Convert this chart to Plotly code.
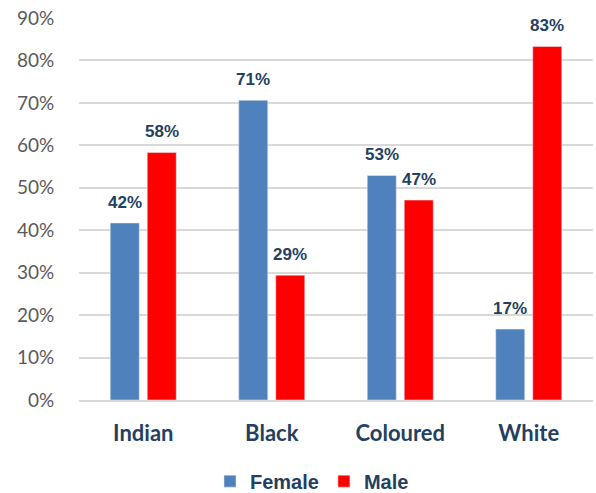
import plotly.graph_objects as go

# Share of each population group by sex
groups = ["Indian", "Black", "Coloured", "White"]
female = [0.417, 0.706, 0.529, 0.167]
male = [0.583, 0.294, 0.471, 0.833]
y_ticks = [0, 0.1, 0.2, 0.3, 0.4, 0.5, 0.6, 0.7, 0.8, 0.9]
y_tick_text = ["0%", "10%", "20%", "30%", "40%", "50%", "60%", "70%", "80%", "90%"]

FEMALE_COLOR = "#4F81BD"
MALE_COLOR = "#FF0000"
LABEL_COLOR = "#243F60"

fig = go.Figure()
fig.add_trace(go.Bar(name="Female", x=groups, y=female, marker_color=FEMALE_COLOR))
fig.add_trace(go.Bar(name="Male", x=groups, y=male, marker_color=MALE_COLOR))

# Value labels above each bar, offset to the left/right bar of each group
for vals, shift in ((female, -18.5), (male, 18.5)):
    for g, v in zip(groups, vals):
        fig.add_annotation(
            x=g, y=v, xref="x", yref="y", text=f"{v:.0%}", showarrow=False,
            xshift=shift, yshift=21, yanchor="middle",
            font=dict(family="Liberation Sans, Arial", size=17, color=LABEL_COLOR,
                      weight="bold"),
        )

fig.update_layout(
    width=596, height=493,
    margin=dict(l=79, r=3, t=18, b=93, autoexpand=False),
    paper_bgcolor="white", plot_bgcolor="white",
    barmode="group", bargap=0.424, bargroupgap=0.216,
    showlegend=True,
    legend=dict(
        orientation="h", x=0.4533, xanchor="center", xref="paper",
        y=0.024, yanchor="middle", yref="container",
        font=dict(family="Liberation Sans, Arial", size=20, color=LABEL_COLOR,
                  weight="bold"),
        itemwidth=30, traceorder="normal",
    ),
    font=dict(family="Liberation Sans, Arial"),
)
fig.update_xaxes(
    automargin=False,
    showline=True, linecolor="#D9D9D9", linewidth=1.5,
    ticks="outside", ticklen=13, tickcolor="rgba(0,0,0,0)",
    tickfont=dict(family="Lato", size=22, color=LABEL_COLOR, weight="bold"),
)
fig.update_yaxes(
    automargin=False,
    range=[0, 0.9], tickvals=y_ticks, ticktext=y_tick_text,
    showgrid=True, gridcolor="#D9D9D9", gridwidth=1.5, zeroline=False,
    ticks="outside", ticklen=20, tickcolor="rgba(0,0,0,0)",
    tickfont=dict(family="Lato", size=19, color="#595959"),
)

fig.write_html("out.html")
